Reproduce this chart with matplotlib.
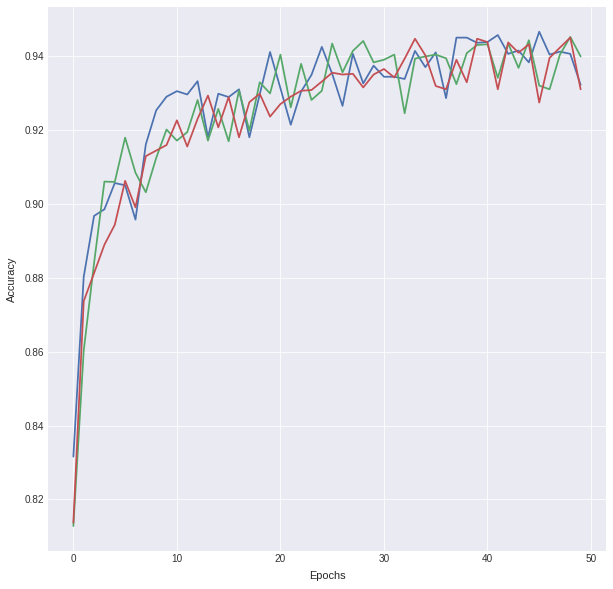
import matplotlib
matplotlib.use("Agg")
import matplotlib.pyplot as plt
import numpy as np

epochs = np.arange(50)

# accuracy curves
acc_blue = [0.8316, 0.8803, 0.8968, 0.8986, 0.9057, 0.9051, 0.8958, 0.9162, 0.9254, 0.9291,
            0.9306, 0.9297, 0.9333, 0.9181, 0.9299, 0.9290, 0.9311, 0.9181, 0.9297, 0.9412,
            0.9314, 0.9215, 0.9305, 0.9350, 0.9426, 0.9353, 0.9266, 0.9407, 0.9327, 0.9375,
            0.9345, 0.9345, 0.9339, 0.9415, 0.9371, 0.9411, 0.9287, 0.9451, 0.9451, 0.9437,
            0.9439, 0.9458, 0.9407, 0.9416, 0.9384, 0.9467, 0.9405, 0.9413, 0.9407, 0.9323]
acc_green = [0.8128, 0.8603, 0.8840, 0.9061, 0.9060, 0.9180, 0.9085, 0.9032, 0.9125, 0.9202,
             0.9172, 0.9195, 0.9282, 0.9172, 0.9258, 0.9170, 0.9308, 0.9199, 0.9330, 0.9300,
             0.9405, 0.9262, 0.9380, 0.9282, 0.9307, 0.9435, 0.9357, 0.9415, 0.9442, 0.9384,
             0.9391, 0.9405, 0.9246, 0.9394, 0.9400, 0.9405, 0.9395, 0.9325, 0.9409, 0.9431,
             0.9433, 0.9342, 0.9435, 0.9369, 0.9444, 0.9321, 0.9311, 0.9405, 0.9453, 0.9400]
acc_red = [0.8137, 0.8737, 0.8813, 0.8890, 0.8944, 0.9063, 0.8991, 0.9130, 0.9145, 0.9160,
           0.9227, 0.9156, 0.9231, 0.9294, 0.9208, 0.9290, 0.9181, 0.9276, 0.9299, 0.9237,
           0.9271, 0.9291, 0.9307, 0.9309, 0.9332, 0.9356, 0.9351, 0.9353, 0.9316, 0.9351,
           0.9366, 0.9343, 0.9394, 0.9448, 0.9403, 0.9320, 0.9311, 0.9391, 0.9330, 0.9448,
           0.9439, 0.9311, 0.9438, 0.9410, 0.9433, 0.9275, 0.9396, 0.9424, 0.9451, 0.9311]

plt.style.use("seaborn-v0_8-darkgrid")
plt.rcParams["font.family"] = ["Liberation Sans", "DejaVu Sans"]

fig = plt.figure(figsize=(613 / 72, 589 / 72), dpi=72)
ax = fig.add_axes([48 / 613, 38.3 / 589, 558 / 613, 543.7 / 589])

ax.plot(epochs, acc_blue, color="#4C72B0", linewidth=1.75)
ax.plot(epochs, acc_green, color="#55A868", linewidth=1.75)
ax.plot(epochs, acc_red, color="#C44E52", linewidth=1.75)

ax.set_yticks(np.arange(0.82, 0.95, 0.02))
ax.tick_params(labelsize=10, colors="#333333")
ax.set_xlabel("Epochs", fontsize=11, labelpad=7)
ax.set_ylabel("Accuracy", fontsize=11, labelpad=8)

fig.savefig("out.png", dpi=72)
